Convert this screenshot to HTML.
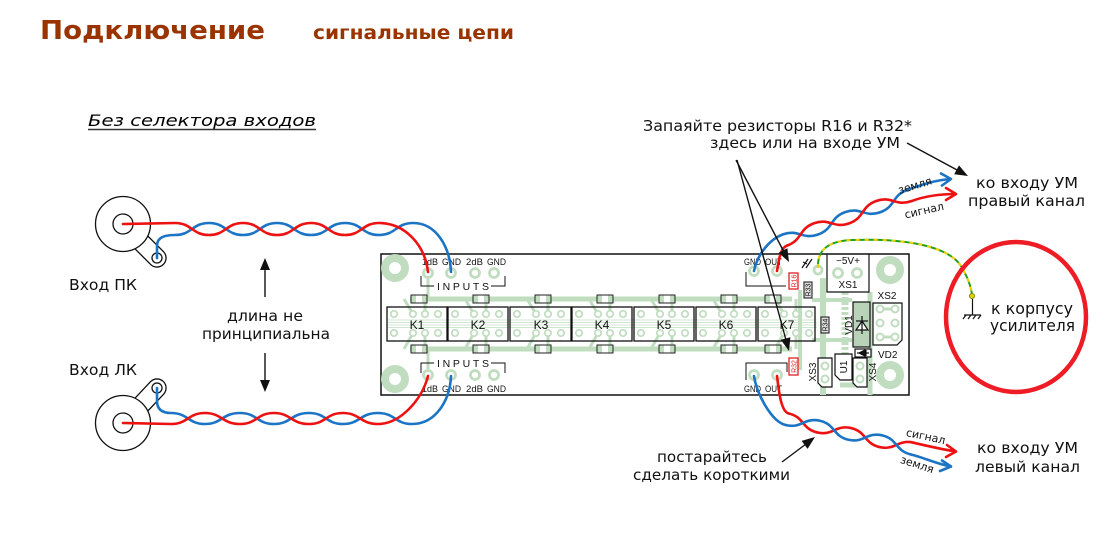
<!DOCTYPE html>
<html><head><meta charset="utf-8"><style>
html,body{margin:0;padding:0;background:#fff;}
svg{display:block;}
</style></head><body>
<svg width="1115" height="546" viewBox="0 0 1115 546" xmlns="http://www.w3.org/2000/svg" font-family="'DejaVu Sans','Liberation Sans',sans-serif">
<defs>
  <g id="rl">
    <g stroke="#c0ddc0" stroke-width="3" fill="none">
      <line x1="17" y1="299" x2="26" y2="314"/>
      <line x1="38" y1="299" x2="38" y2="314"/>
      <line x1="17" y1="349" x2="26" y2="333"/>
      <line x1="38" y1="349" x2="38" y2="333"/>
    </g>
    <g stroke="#c0ddc0" stroke-width="1.7" fill="#fff">
      <circle cx="7" cy="314" r="3.2"/><circle cx="26" cy="314" r="3.2"/><circle cx="38" cy="314" r="3.2"/><circle cx="51" cy="314" r="3.2"/>
      <circle cx="7" cy="333" r="3.2"/><circle cx="26" cy="333" r="3.2"/><circle cx="38" cy="333" r="3.2"/><circle cx="51" cy="333" r="3.2"/>
    </g>
  </g>
  <g id="sp">
    <rect x="-8" y="-4" width="16" height="8" fill="#c0ddc0" stroke="#222" stroke-width="1"/>
    <rect x="-3" y="-3.5" width="6" height="7" fill="#fff" stroke="none"/>
  </g>
</defs>

<!-- Titles -->
<text x="40" y="39" font-size="26" font-weight="bold" fill="#993300" textLength="225" lengthAdjust="spacingAndGlyphs">Подключение</text>
<text x="313" y="39" font-size="19" font-weight="bold" fill="#993300" textLength="201" lengthAdjust="spacingAndGlyphs">сигнальные цепи</text>
<text x="88" y="126" font-size="16" font-style="italic" fill="#000" textLength="228" lengthAdjust="spacingAndGlyphs">Без селектора входов</text>
<line x1="88" y1="129.5" x2="316" y2="129.5" stroke="#333" stroke-width="1.5"/>

<!-- PCB -->
<rect x="381" y="254" width="528" height="141" fill="#fff" stroke="#111" stroke-width="1.5"/>
<g stroke="#c0ddc0" fill="none">
  <circle cx="395" cy="268" r="10" stroke-width="8"/>
  <circle cx="395" cy="379" r="10" stroke-width="8"/>
  <circle cx="890" cy="270" r="10" stroke-width="8"/>
  <circle cx="890" cy="375" r="10" stroke-width="8"/>
  <line x1="410" y1="299" x2="792" y2="299" stroke-width="5"/>
  <line x1="410" y1="349" x2="792" y2="349" stroke-width="5"/>
  <line x1="428" y1="278" x2="428" y2="299" stroke-width="3"/>
  <line x1="428" y1="349" x2="428" y2="369" stroke-width="3"/>
  <g stroke-width="0.8">
    <line x1="387" y1="320" x2="817" y2="320"/>
    <line x1="387" y1="322.5" x2="817" y2="322.5"/>
    <line x1="387" y1="325" x2="817" y2="325"/>
    <line x1="387" y1="327.5" x2="817" y2="327.5"/>
  </g>
  <line x1="823" y1="278" x2="823" y2="395" stroke-width="6"/>
  <line x1="845" y1="292" x2="845" y2="354" stroke-width="7" stroke-dasharray="3 2"/>
  <line x1="812" y1="300" x2="852" y2="300" stroke-width="4"/>
  <line x1="812" y1="340" x2="852" y2="340" stroke-width="4"/>
  <line x1="800" y1="290" x2="800" y2="370" stroke-width="4"/>
  <line x1="870" y1="292" x2="870" y2="395" stroke-width="5"/>
  <line x1="840" y1="385" x2="860" y2="385" stroke-width="5"/>
</g>
<use href="#rl" x="387"/><use href="#rl" x="448"/><use href="#rl" x="510"/><use href="#rl" x="572"/>
<use href="#rl" x="634"/><use href="#rl" x="696"/><use href="#rl" x="758"/>

<g>
  <use href="#sp" x="419" y="299"/><use href="#sp" x="481" y="299"/><use href="#sp" x="543" y="299"/><use href="#sp" x="605" y="299"/><use href="#sp" x="667" y="299"/><use href="#sp" x="729" y="299"/><use href="#sp" x="773" y="299"/>
  <use href="#sp" x="419" y="349"/><use href="#sp" x="481" y="349"/><use href="#sp" x="543" y="349"/><use href="#sp" x="605" y="349"/><use href="#sp" x="667" y="349"/><use href="#sp" x="729" y="349"/><use href="#sp" x="773" y="349"/>
</g>

<!-- relay boxes -->
<g fill="none" stroke="#111" stroke-width="1.3">
  <rect x="387" y="307" width="60" height="34"/>
  <rect x="448" y="307" width="60" height="34"/>
  <rect x="510" y="307" width="61" height="34"/>
  <rect x="572" y="307" width="60" height="34"/>
  <rect x="634" y="307" width="60" height="34"/>
  <rect x="696" y="307" width="60" height="34"/>
  <rect x="758" y="307" width="57" height="34"/>
</g>
<g font-family="'Liberation Sans',sans-serif" font-size="12" text-anchor="middle" fill="#111">
  <text x="417" y="329">K1</text><text x="478" y="329">K2</text><text x="541" y="329">K3</text><text x="602" y="329">K4</text>
  <text x="664" y="329">K5</text><text x="726" y="329">K6</text><text x="787" y="329">K7</text>
</g>

<!-- INPUTS connectors -->
<g stroke="#c0ddc0" stroke-width="2.8" fill="#fff">
  <circle cx="428" cy="273" r="4.5"/><circle cx="451" cy="273" r="4.5"/><circle cx="475" cy="273" r="4.5"/><circle cx="494" cy="273" r="4.5"/>
  <circle cx="428" cy="375" r="4.5"/><circle cx="451" cy="375" r="4.5"/><circle cx="475" cy="375" r="4.5"/><circle cx="494" cy="375" r="4.5"/>
  <circle cx="754" cy="271" r="4.5"/><circle cx="777" cy="271" r="4.5"/>
  <circle cx="754" cy="375" r="4.5"/><circle cx="777" cy="375" r="4.5"/>
  <circle cx="838" cy="273" r="4.5"/><circle cx="857" cy="273" r="4.5"/>
  <circle cx="818" cy="270" r="4"/>
</g>
<g stroke="#111" stroke-width="1" fill="none">
  <path d="M421,276 V286 H434 M491,286 H505 V276"/>
  <path d="M421,373 V363 H434 M491,363 H505 V373"/>
  <path d="M746,272 V286 H786"/>
  <path d="M746,380 V363 H787 V372"/>
</g>
<g font-family="'Liberation Sans',sans-serif" font-size="9.5" fill="#111" lengthAdjust="spacingAndGlyphs">
  <text x="422" y="265" textLength="16" lengthAdjust="spacingAndGlyphs">1dB</text>
  <text x="442" y="265" textLength="19" lengthAdjust="spacingAndGlyphs">GND</text>
  <text x="466" y="265" textLength="17" lengthAdjust="spacingAndGlyphs">2dB</text>
  <text x="487" y="265" textLength="19" lengthAdjust="spacingAndGlyphs">GND</text>
  <text x="422" y="392" textLength="16" lengthAdjust="spacingAndGlyphs">1dB</text>
  <text x="442" y="392" textLength="19" lengthAdjust="spacingAndGlyphs">GND</text>
  <text x="466" y="392" textLength="17" lengthAdjust="spacingAndGlyphs">2dB</text>
  <text x="487" y="392" textLength="19" lengthAdjust="spacingAndGlyphs">GND</text>
  <text x="744" y="265" textLength="17" lengthAdjust="spacingAndGlyphs">GND</text>
  <text x="765" y="265" textLength="17" lengthAdjust="spacingAndGlyphs">OUT</text>
  <text x="744" y="392" textLength="17" lengthAdjust="spacingAndGlyphs">GND</text>
  <text x="765" y="392" textLength="17" lengthAdjust="spacingAndGlyphs">OUT</text>
</g>
<text x="437" y="290" font-family="'Liberation Sans',sans-serif" font-size="10.5" fill="#111" textLength="52">INPUTS</text>
<text x="437" y="367" font-family="'Liberation Sans',sans-serif" font-size="10.5" fill="#111" textLength="52">INPUTS</text>

<!-- resistors -->
<rect x="789" y="273" width="9" height="16" fill="#fff" stroke="#e02020" stroke-width="1.3"/>
<text transform="translate(796.5,281) rotate(-90)" font-family="'Liberation Sans',sans-serif" font-size="7" fill="#e02020" text-anchor="middle">R16</text>
<rect x="789" y="358" width="9" height="17" fill="#fff" stroke="#e02020" stroke-width="1.3"/>
<text transform="translate(796.5,366.5) rotate(-90)" font-family="'Liberation Sans',sans-serif" font-size="7" fill="#e02020" text-anchor="middle">R32</text>
<rect x="804" y="282" width="8" height="16" fill="#ddd" stroke="#222" stroke-width="1.1"/>
<text transform="translate(810.5,290) rotate(-90)" font-family="'Liberation Sans',sans-serif" font-size="7" fill="#111" text-anchor="middle">R33</text>
<rect x="821" y="317" width="8" height="16" fill="#ddd" stroke="#222" stroke-width="1.1"/>
<text transform="translate(827.5,325) rotate(-90)" font-family="'Liberation Sans',sans-serif" font-size="7" fill="#111" text-anchor="middle">R34</text>

<!-- right components -->
<g stroke="#111" stroke-width="1.2" fill="none">
  <path d="M802,268 L808,259 M806,268 L812,259 M803,262 L807,264"/>
  <path d="M827,254 V292 H869 V254"/>
  <rect x="853" y="302" width="17" height="45" fill="#b9d3b9"/>
  <path d="M873,303 H902 V340 L897,345 H873 Z" fill="#fff"/>
  <rect x="855" y="349" width="16" height="8" fill="#fff"/>
  <path d="M835,354 H852 V380 H840 L835,375 Z" fill="#fff"/>
  <path d="M818,358 H832 V387 H822 L818,383 Z" fill="#fff"/>
  <path d="M853,358 H867 V387 H857 L853,383 Z" fill="#fff"/>
</g>
<g stroke="#c0ddc0" stroke-width="2" fill="#fff">
  <circle cx="880" cy="309" r="3.5"/><circle cx="895" cy="309" r="3.5"/>
  <circle cx="880" cy="323" r="3.5"/><circle cx="895" cy="323" r="3.5"/>
  <circle cx="880" cy="337" r="3.5"/><circle cx="895" cy="337" r="3.5"/>
  <circle cx="825" cy="366" r="3.5"/><circle cx="825" cy="379" r="3.5"/>
  <circle cx="860" cy="366" r="3.5"/><circle cx="860" cy="379" r="3.5"/>
</g>
<g stroke="#c0ddc0" stroke-width="3"><line x1="883" y1="309" x2="892" y2="309"/><line x1="883" y1="337" x2="892" y2="337"/></g>
<!-- diode symbols -->
<g stroke="#111" stroke-width="1.2" fill="#111">
  <path d="M856,330 H868 L862,321 Z" fill="#fff"/>
  <line x1="856" y1="321" x2="868" y2="321"/>
  <line x1="862" y1="316" x2="862" y2="334"/>
  <path d="M859,353 L865,350 V356 Z"/>
  <line x1="866" y1="350" x2="866" y2="356"/>
  <line x1="857" y1="353" x2="869" y2="353"/>
</g>
<g font-family="'Liberation Sans',sans-serif" font-size="10" fill="#111">
  <text x="848" y="264" text-anchor="middle">−5V+</text>
  <text x="848" y="288" text-anchor="middle">XS1</text>
  <text x="887" y="299" text-anchor="middle">XS2</text>
  <text x="878" y="358">VD2</text>
  <text transform="translate(852,325) rotate(-90)" text-anchor="middle">VD1</text>
  <text transform="translate(847,367) rotate(-90)" text-anchor="middle">U1</text>
  <text transform="translate(816,372) rotate(-90)" text-anchor="middle">XS3</text>
  <text transform="translate(876,372) rotate(-90)" text-anchor="middle">XS4</text>
</g>

<!-- Jacks -->
<g stroke="#111" stroke-width="1.3" fill="none">
  <path d="M135,248.8 L150.6,264.4 A9,9 0 0 0 163.4,251.6 L147.8,236"/>
  <circle cx="123" cy="224" r="27.5" fill="#fff"/>
  <circle cx="123" cy="224" r="10"/>
  <circle cx="157" cy="258" r="5"/>
  <path d="M147.8,411 L163.4,394.4 A9,9 0 0 0 150.6,381.6 L135,398.2"/>
  <circle cx="123" cy="423" r="27.5" fill="#fff"/>
  <circle cx="123" cy="423" r="10"/>
  <circle cx="157" cy="388" r="5"/>
</g>

<!-- Wires left -->
<g fill="none" stroke-width="2.6" stroke-linecap="round">
  <path stroke="#1c74c4" d="M157,258 L157,246 C157,237 165,235 175,235 C192,235 192,223 209,223 C226,223 226,235 243,235 C260,235 260,223 277,223 C294,223 294,235 311,235 C328,235 328,223 345,223 C362,223 362,235 379,235 C396,235 396,223 413,223 C437,223 450,248 451,272"/>
  <path stroke="#ee1111" d="M123,224 L175,223 C192,223 192,235 209,235 C226,235 226,223 243,223 C260,223 260,235 277,235 C294,235 294,223 311,223 C328,223 328,235 345,235 C362,235 362,223 379,223 C405,223 425,245 428,272"/>
  <path stroke="#1c74c4" d="M157,388 L157,401 C157,410 163,413 171,413 C188,413 188,424 205,424 C222,424 222,413 240,413 C257,413 257,424 274,424 C291,424 291,413 309,413 C326,413 326,424 343,424 C360,424 360,413 378,413 C395,413 395,424 412,424 C436,424 450,400 451,376"/>
  <path stroke="#ee1111" d="M123,423 L171,424 C188,424 188,413 205,413 C222,413 222,424 240,424 C257,424 257,413 274,413 C291,413 291,424 309,424 C326,424 326,413 343,413 C360,413 360,424 378,424 C400,424 422,400 428,376"/>
</g>

<!-- Wires right -->
<g fill="none" stroke-width="2.6" stroke-linecap="round" stroke-linejoin="round">
  <path stroke="#1c74c4" d="M754,271 C757,256 768,240 783,234.3"/>
  <path stroke="#ee1111" d="M777,271 C779,260 780,248 787,245.65"/>
  <g transform="translate(785,240) rotate(-19.7)">
    <path stroke="#1c74c4" d="M0,-6 C16.5,-6 16.5,6 33,6 C49.5,6 49.5,-6 66,-6 C82.5,-6 82.5,6 99,6 C115.5,6 115.5,-6 132,-6"/>
    <path stroke="#ee1111" d="M0,6 C16.5,6 16.5,-6 33,-6 C49.5,-6 49.5,6 66,6 C82.5,6 82.5,-6 99,-6 C115.5,-6 115.5,6 132,6"/>
  </g>
  <path stroke="#1c74c4" d="M907.2,189.9 C920,185.3 935,180 951,179 M941,173.5 L951,179 L942,185.5"/>
  <path stroke="#ee1111" d="M911.3,201.2 C925,196 940,194 956,194 M946,188 L956,194 L946,200"/>

  <path stroke="#1c74c4" d="M754,376 C757,395 772,422 786,425.1"/>
  <path stroke="#ee1111" d="M777,376 C779,392 781,411.7 788.8,413.5"/>
  <g transform="translate(787.4,419.3) rotate(13.2)">
    <path stroke="#ee1111" d="M0,-6 C16,-6 16,6 32,6 C48,6 48,-6 64,-6 C80,-6 80,6 96,6 C112,6 112,-6 128,-6"/>
    <path stroke="#1c74c4" d="M0,6 C16,6 16,-6 32,-6 C48,-6 48,6 64,6 C80,6 80,-6 96,-6 C112,-6 112,6 128,6"/>
  </g>
  <path stroke="#ee1111" d="M913.4,442.7 C925,445.4 940,449 956,451.5 M947,445 L956,451.5 L946,457"/>
  <path stroke="#1c74c4" d="M910.6,454.4 C922,457 937,464 951,466.5 M942,460.5 L951,466.5 L940,471"/>
</g>

<!-- wire labels -->
<g font-size="11" fill="#111" text-anchor="middle">
  <text transform="translate(916,189) rotate(-17)">земля</text>
  <text transform="translate(925,214) rotate(-13)">сигнал</text>
  <text transform="translate(925,440) rotate(12)">сигнал</text>
  <text transform="translate(916,468) rotate(18)">земля</text>
</g>

<!-- green/yellow ground wire -->
<path d="M818,268 C817,250 828,241 852,240 C905,238 948,246 961,266 C967,276 971,286 972,295" stroke="#22a022" stroke-width="2" fill="none"/>
<path d="M818,268 C817,250 828,241 852,240 C905,238 948,246 961,266 C967,276 971,286 972,295" stroke="#f2d200" stroke-width="2" fill="none" stroke-dasharray="4 5"/>
<circle cx="972" cy="296" r="2.5" fill="#e8d000" stroke="#7a8a00" stroke-width="1"/>
<g stroke="#111" stroke-width="1.2">
  <line x1="972.5" y1="299" x2="972.5" y2="315"/>
  <line x1="964" y1="315" x2="981" y2="315"/>
  <line x1="966" y1="315" x2="963" y2="319"/><line x1="971" y1="315" x2="968" y2="319"/>
  <line x1="976" y1="315" x2="973" y2="319"/><line x1="981" y1="315" x2="978" y2="319"/>
</g>

<!-- red circle -->
<ellipse cx="1016" cy="317" rx="70" ry="75" fill="none" stroke="#ee1c24" stroke-width="4.5"/>
<text x="991" y="314" font-size="16" fill="#111" textLength="82" lengthAdjust="spacingAndGlyphs">к корпусу</text>
<text x="990" y="331" font-size="16" fill="#111" textLength="85" lengthAdjust="spacingAndGlyphs">усилителя</text>

<!-- Texts -->
<g font-size="15" fill="#111">
  <text x="69" y="290" textLength="68" lengthAdjust="spacingAndGlyphs">Вход ПК</text>
  <text x="69" y="375" textLength="68" lengthAdjust="spacingAndGlyphs">Вход ЛК</text>
  <text x="227" y="321" textLength="76" lengthAdjust="spacingAndGlyphs">длина не</text>
  <text x="202" y="339" textLength="128" lengthAdjust="spacingAndGlyphs">принципиальна</text>
  <text x="643" y="131" textLength="269" lengthAdjust="spacingAndGlyphs">Запаяйте резисторы R16 и R32*</text>
  <text x="710" y="148" textLength="190" lengthAdjust="spacingAndGlyphs">здесь или на входе УМ</text>
  <text x="976" y="188" textLength="102" lengthAdjust="spacingAndGlyphs">ко входу УМ</text>
  <text x="968" y="206" textLength="117" lengthAdjust="spacingAndGlyphs">правый канал</text>
  <text x="977" y="453" textLength="101" lengthAdjust="spacingAndGlyphs">ко входу УМ</text>
  <text x="975" y="472" textLength="105" lengthAdjust="spacingAndGlyphs">левый канал</text>
  <text x="657" y="462" textLength="110" lengthAdjust="spacingAndGlyphs">постарайтесь</text>
  <text x="633" y="480" textLength="157" lengthAdjust="spacingAndGlyphs">сделать короткими</text>
</g>

<!-- Black arrows -->
<g stroke="#111" stroke-width="1.4" fill="#111">
  <line x1="265" y1="297" x2="265" y2="268"/>
  <polygon points="265,258 260,270 270,270" stroke="none"/>
  <line x1="265" y1="353" x2="265" y2="382"/>
  <polygon points="265,392 260,380 270,380" stroke="none"/>
  <line x1="736" y1="160" x2="784" y2="252"/>
  <polygon points="789,262 778.6,252.8 787.4,248.2" stroke="none"/>
  <line x1="737" y1="160" x2="786" y2="340"/>
  <polygon points="789,351 780.8,339.8 790.4,337.2" stroke="none"/>
  <line x1="907" y1="143" x2="958" y2="170.5"/>
  <polygon points="968,176 954.2,174.2 959,165.4" stroke="none"/>
  <line x1="782" y1="462" x2="806" y2="444"/>
  <polygon points="815,437 807.6,448.9 801.6,440.9" stroke="none"/>
</g>
</svg>
</body></html>
